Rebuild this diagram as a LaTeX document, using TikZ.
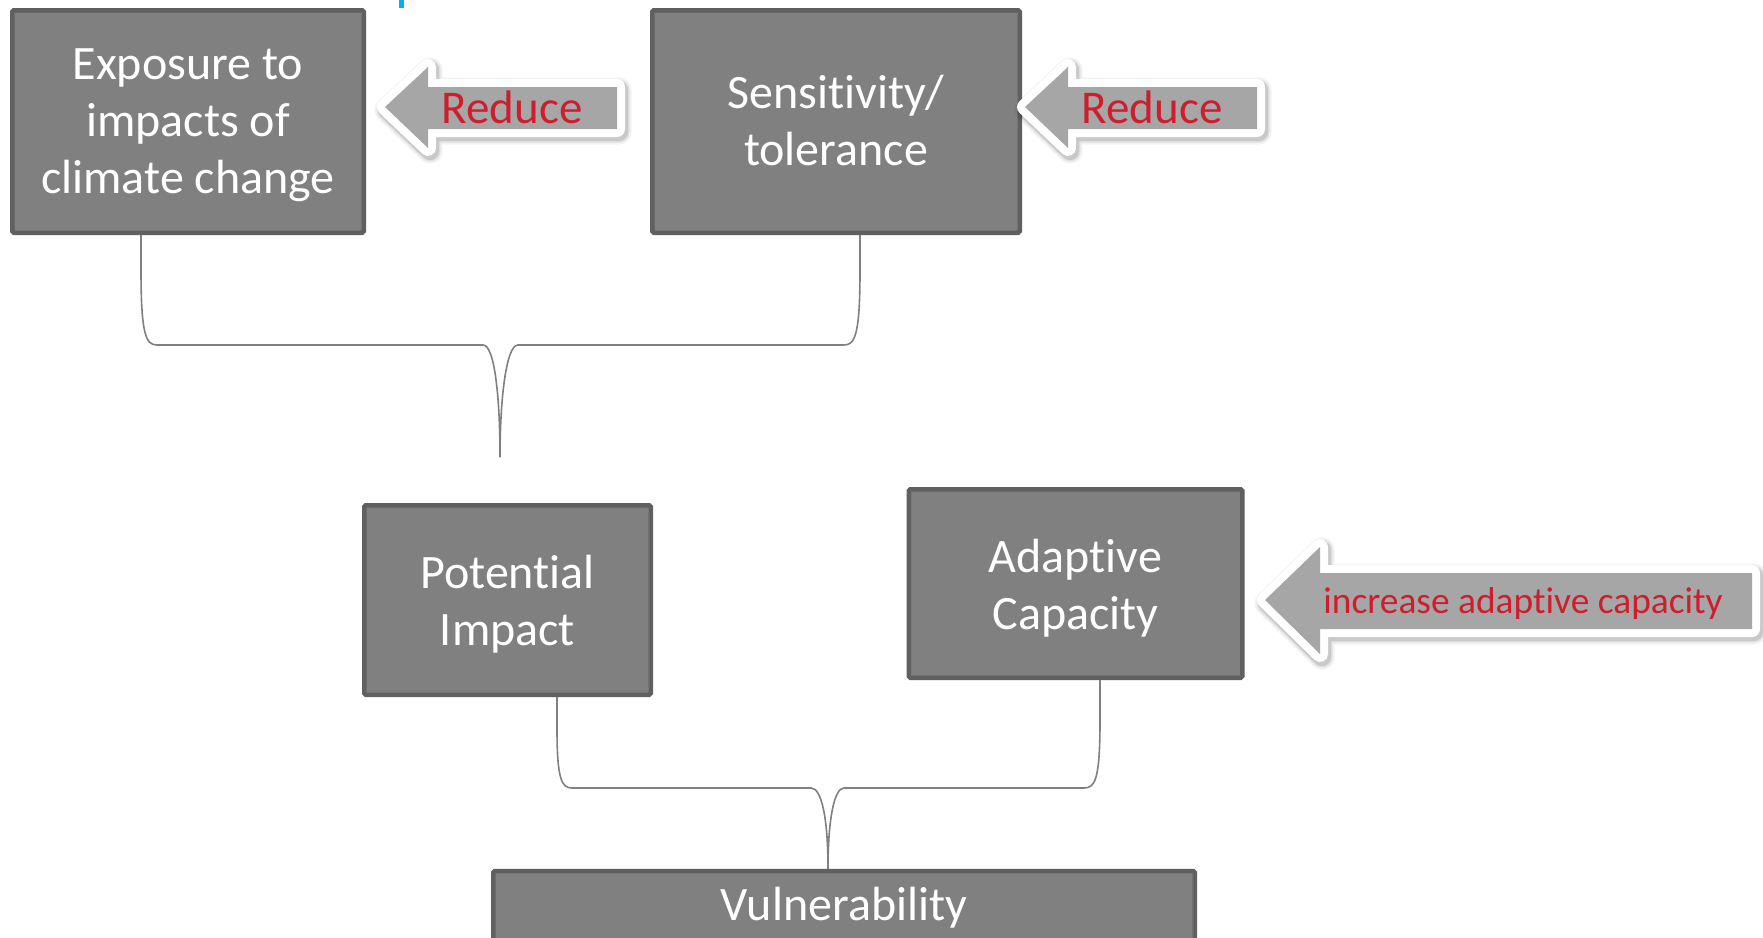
\documentclass[tikz,border=0pt]{standalone}
\usepackage{fontspec}
\setmainfont{Carlito}[Ligatures=NoCommon]
\definecolor{boxfill}{RGB}{128,128,128}
\definecolor{boxline}{RGB}{96,96,96}
\definecolor{arrfill}{RGB}{166,166,166}
\definecolor{redtxt}{RGB}{206,30,46}
\definecolor{conn}{RGB}{128,128,128}
\definecolor{bluemark}{RGB}{0,176,240}
\tikzset{
  gbox/.style={draw=boxline, fill=boxfill, line width=4.5pt, rounded corners=1.5pt, inner sep=0pt},
  boxtext/.style={text=white, align=center, inner sep=0pt, anchor=base,
    font=\fontsize{48}{57}\selectfont},
  redarrow/.style={
    preaction={draw=black, opacity=0.05, line width=25pt, line join=round,
      transform canvas={xshift=2pt, yshift=-3pt}},
    preaction={draw=black, opacity=0.07, line width=21pt, line join=round,
      transform canvas={xshift=2pt, yshift=-3pt}},
    preaction={draw=black, opacity=0.10, line width=18pt, line join=round,
      transform canvas={xshift=2pt, yshift=-3pt}},
    preaction={draw=white, line width=16pt, line join=round},
    fill=arrfill},
  bigred/.style={text=redtxt, font=\fontsize{47}{54}\selectfont, inner sep=0pt, anchor=base},
  smallred/.style={text=redtxt, font=\fontsize{37.4}{43}\selectfont, inner sep=0pt, anchor=base},
  link/.style={draw=conn, line width=1.6pt}
}
\begin{document}
\begin{tikzpicture}[x=1pt, y=-1pt]
\useasboundingbox (0,0) rectangle (1763,937);
\fill[white] (0,0) rectangle (1763,937);

% small blue mark at top
\fill[bluemark] (399,0) rectangle (404,8);

% boxes (text anchored at the baseline of its last line)
\node[gbox, minimum width=351.5pt, minimum height=222.5pt] (exp) at (188,121.5) {};
\node[boxtext] (expT) at (188,193) {Exposure to\\impacts of\\climate change};
\node[gbox, minimum width=367.5pt, minimum height=222.5pt] (sen) at (836,121.5) {};
\node[boxtext] (senT) at (836,165) {Sensitivity/\\tolerance};
\node[gbox, minimum width=286.5pt, minimum height=189.5pt] (pot) at (507.5,600) {};
\node[boxtext] (potT) at (507.5,645) {Potential\\Impact};
\node[gbox, minimum width=333.5pt, minimum height=188.5pt] (ada) at (1075.5,583.5) {};
\node[boxtext] (adaT) at (1075.5,629) {Adaptive\\Capacity};
\node[gbox, minimum width=701.5pt, minimum height=70pt] (vul) at (844,906) {};
\node[boxtext] (vulT) at (844,920) {Vulnerability};

% arrows
\path[redarrow] (385,107) -- (428,67) -- (428,87) -- (617,87) -- (617,129)
  -- (428,129) -- (428,148) -- cycle;
\node[bigred] (r1) at (512,123) {Reduce};
\path[redarrow] (1025,107) -- (1068,67) -- (1068,87) -- (1257,87) -- (1257,129)
  -- (1068,129) -- (1068,148) -- cycle;
\node[bigred] (r2) at (1152,123) {Reduce};
\path[redarrow] (1265,600) -- (1320,547) -- (1320,573) -- (1752,573) -- (1752,629)
  -- (1320,629) -- (1320,654) -- cycle;
\node[smallred] (r3) at (1523,613) {increase adaptive capacity};

% brace connectors
\coordinate (j1) at (500,457);
\draw[link] ([xshift=-47pt]exp.south) -- ++(0,35) .. controls (141,335) and (146,345) .. (157,345)
  -- (483,345) .. controls (495,345) and (500,400) .. (j1);
\draw[link] ([xshift=24pt]sen.south) -- ++(0,35) .. controls (860,335) and (855,345) .. (844,345)
  -- (518,345) .. controls (506,345) and (500,400) .. (j1);

\coordinate (j2) at ([xshift=-16pt]vul.north);
\draw[link] ([xshift=49.5pt]pot.south) -- ++(0,33) .. controls (557,780) and (562,788) .. (572,788)
  -- (811,788) .. controls (822,788) and (828,820) .. (j2);
\draw[link] ([xshift=24.5pt]ada.south) -- ++(0,40) .. controls (1100,780) and (1095,788) .. (1084,788)
  -- (844,788) .. controls (834,788) and (828,820) .. (j2);
\end{tikzpicture}
\end{document}
